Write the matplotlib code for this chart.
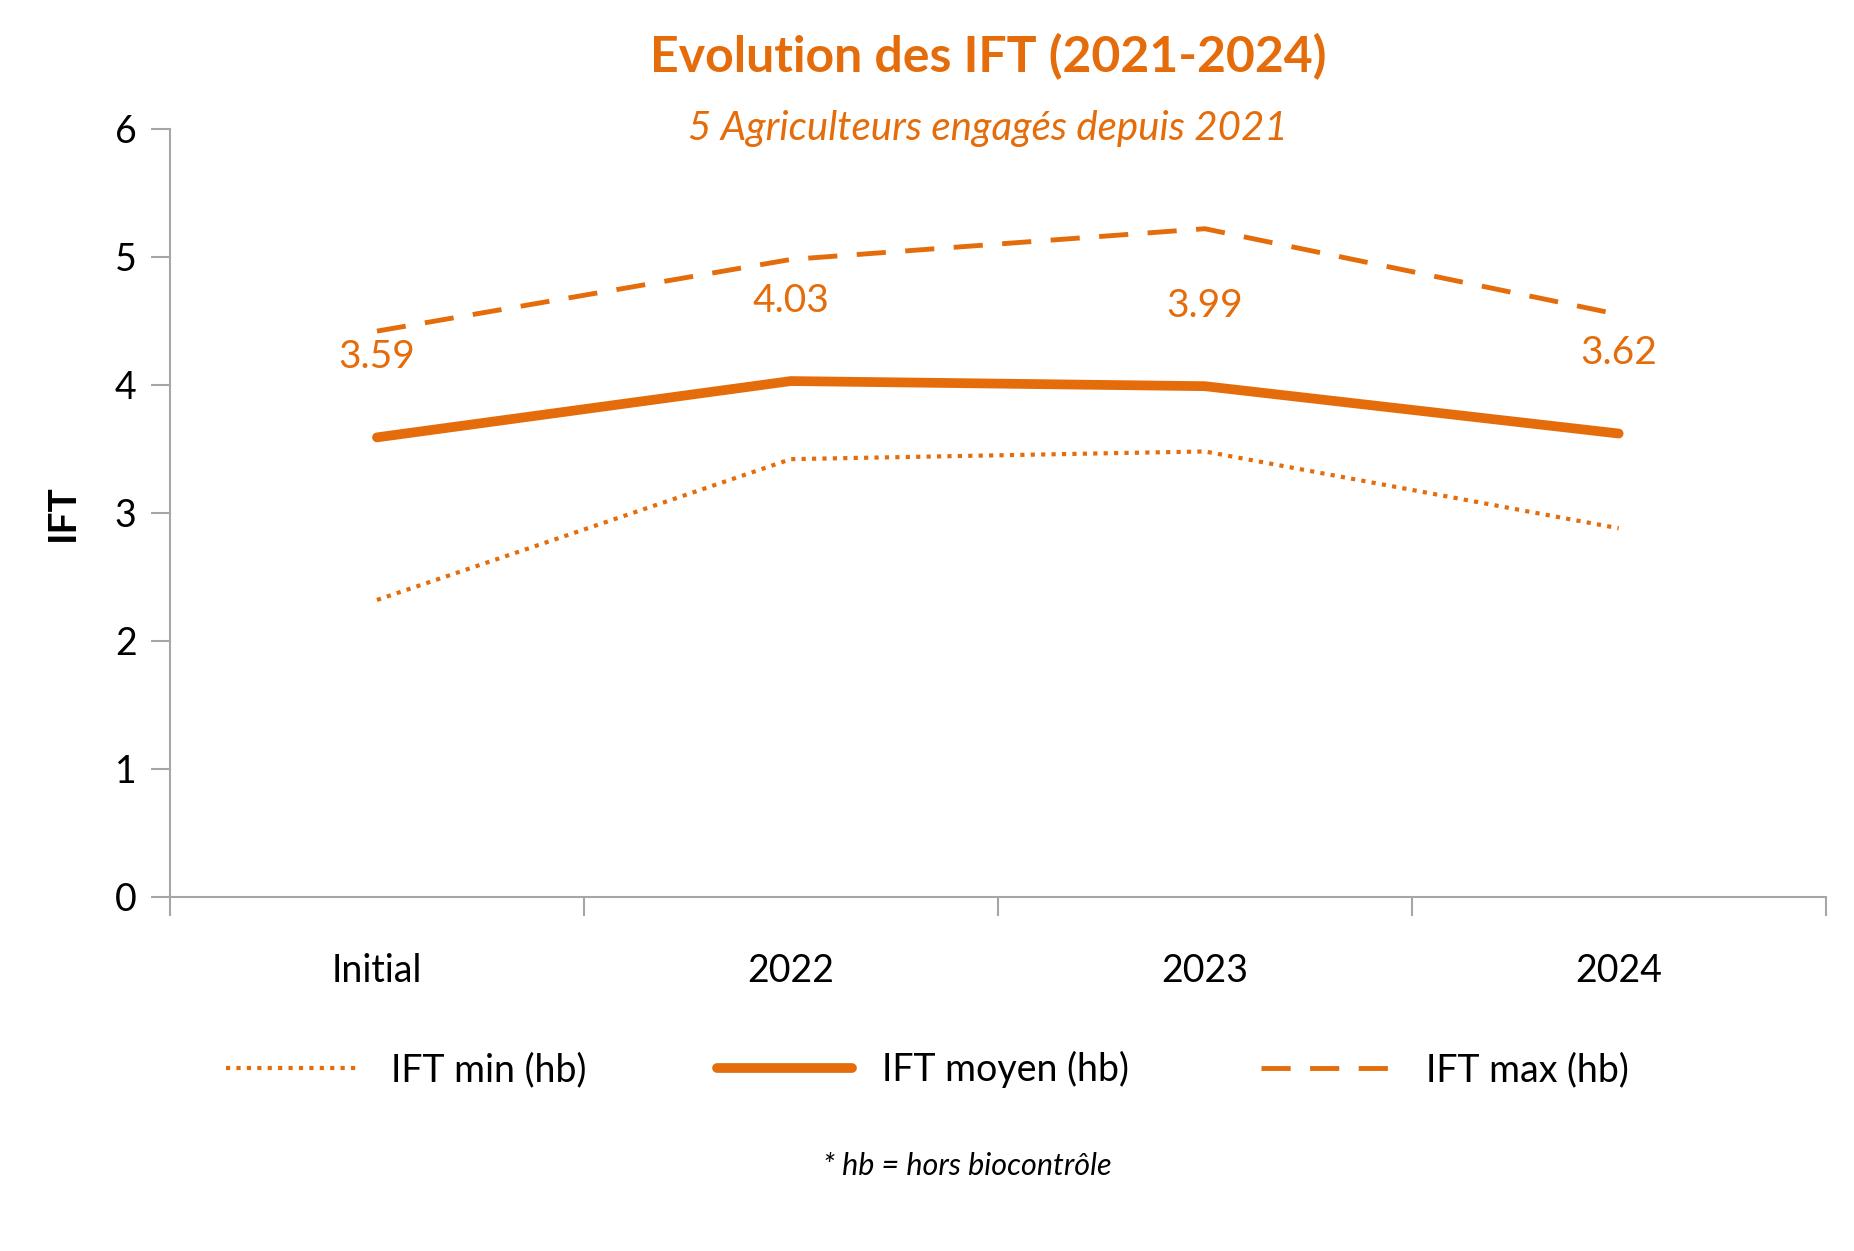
import matplotlib
matplotlib.use("Agg")
import matplotlib.pyplot as plt
import numpy as np

categories = ["Initial", "2022", "2023", "2024"]
ift_min = [2.32, 3.42, 3.48, 2.88]
ift_moyen = [3.59, 4.03, 3.99, 3.62]
ift_max = [4.42, 4.98, 5.22, 4.55]

orange = "#E46C0A"
plt.rcParams["font.family"] = "Lato"

fig = plt.figure(figsize=(18.54, 12.51), dpi=100)
ax = fig.add_axes([0.0917, 0.283, 0.893, 0.614])
x = np.arange(len(categories))

ax.plot(x, ift_min, color=orange, lw=3, linestyle=(0, (1, 1.5)), label="IFT min (hb)")
ax.plot(x, ift_moyen, color=orange, lw=7, solid_capstyle="round", label="IFT moyen (hb)")
ax.plot(x, ift_max, color=orange, lw=3.5, linestyle=(0, (6, 4)), label="IFT max (hb)")

for xi, v in zip(x, ift_moyen):
    ax.annotate(f"{v:.2f}", (xi, v), xytext=(0, 45), textcoords="offset points",
                ha="center", va="bottom", fontsize=28, color=orange)

ax.set_xlim(-0.5, 3.5)
ax.set_ylim(0, 6)
ax.set_yticks(range(7))
ax.set_xticks(x)
ax.set_xticklabels(categories)
ax.set_xticks(np.arange(-0.5, 4, 1), minor=True)
ax.tick_params(axis="x", which="major", length=0, pad=40, labelsize=27)
ax.tick_params(axis="x", which="minor", length=14, color="#A6A6A6", width=1.5)
ax.tick_params(axis="y", length=14, color="#A6A6A6", width=1.5, labelsize=27, pad=10)
for s in ["top", "right"]:
    ax.spines[s].set_visible(False)
for s in ["left", "bottom"]:
    ax.spines[s].set_color("#A6A6A6")
    ax.spines[s].set_linewidth(1.5)
ax.set_ylabel("IFT", fontsize=28, fontweight="bold", labelpad=25)

fig.text(0.533, 0.955, "Evolution des IFT (2021-2024)", ha="center", va="center",
         fontsize=36, fontweight="bold", color=orange)
fig.text(0.533, 0.897, "5 Agriculteurs engagés depuis 2021", ha="center", va="center",
         fontsize=29, style="italic", color=orange)

fig.legend(loc="center", bbox_to_anchor=(0.5, 0.145), ncol=3, frameon=False,
           fontsize=27, handlelength=3.6, columnspacing=3.5)
fig.text(0.522, 0.068, "* hb = hors biocontrôle", ha="center", va="center",
         fontsize=22, style="italic")

fig.savefig("out.png", dpi=100)
